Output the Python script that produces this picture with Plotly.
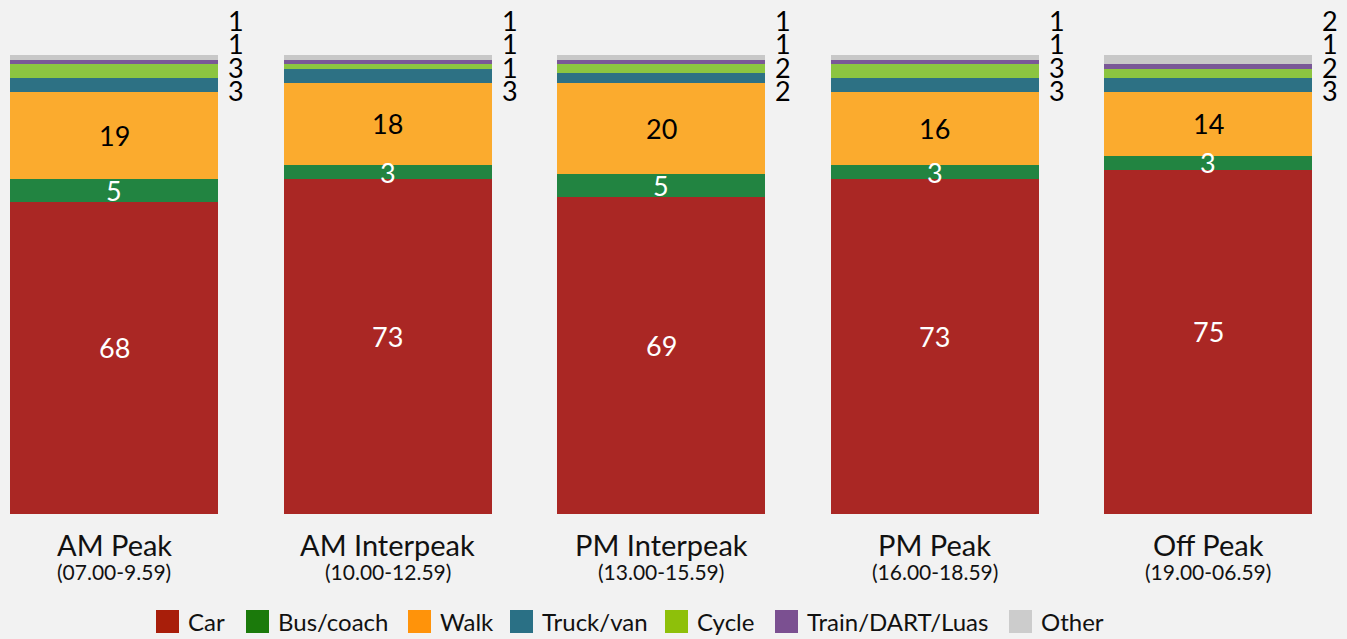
import plotly.graph_objects as go

# ---- data ----
periods = ["AM Peak", "AM Interpeak", "PM Interpeak", "PM Peak", "Off Peak"]
period_times = ["(07.00-9.59)", "(10.00-12.59)", "(13.00-15.59)", "(16.00-18.59)", "(19.00-06.59)"]
modes = ["Car", "Bus/coach", "Walk", "Truck/van", "Cycle", "Train/DART/Luas", "Other"]
car = [68, 73, 69, 73, 75]
bus = [5, 3, 5, 3, 3]
walk = [19, 18, 20, 16, 14]
truck = [3, 3, 2, 3, 3]
cycle = [3, 1, 2, 3, 2]
train = [1, 1, 1, 1, 1]
other = [1, 1, 1, 1, 2]

series = [car, bus, walk, truck, cycle, train, other]
bar_colors = ["#aa2724", "#228441", "#fbab2e", "#2d7184", "#8cc541", "#7a5897", "#c8c8c8"]
legend_colors = ["#a81e0a", "#1b7a0b", "#ff930a", "#2a7085", "#8ec00a", "#7b5091", "#cccccc"]

FONT = "Lato"
W, H = 1347, 639
ML, MR, MT, MB = 0, 0, 55, 125

fig = go.Figure()
for name, vals, col in zip(modes, series, bar_colors):
    fig.add_trace(go.Bar(x=periods, y=vals, name=name, marker=dict(color=col, line=dict(width=0)),
                         showlegend=False, hoverinfo="x+y+name"))

ann = []
# inside labels (Car, Bus, Walk) at segment centres
inside = [(0, "white", 10), (1, "white", 0), (2, "black", 0)]
for i, p in enumerate(periods):
    base = 0
    cums = []
    for s in series:
        cums.append((base, base + s[i]))
        base += s[i]
    for idx, colr, ysh in inside:
        lo, hi = cums[idx]
        ann.append(dict(x=p, y=(lo + hi) / 2, xref="x", yref="y", text=str(series[idx][i]),
                        showarrow=False, font=dict(family=FONT, size=27, color=colr),
                        xanchor="center", yanchor="middle", yshift=ysh))
    # outside labels for small segments, stacked to the right of the bar
    small = [(6, 34.5), (5, 12), (4, -12), (3, -35)]
    for idx, ysh in small:
        ann.append(dict(x=p, y=1, xref="x", yref="paper", text=str(series[idx][i]),
                        showarrow=False, font=dict(family=FONT, size=27, color="black"),
                        xanchor="left", yanchor="middle", xshift=112, yshift=ysh))
    # category labels
    ann.append(dict(x=p, y=0, xref="x", yref="paper", text=p, showarrow=False,
                    font=dict(family=FONT, size=29, color="#111111"),
                    xanchor="center", yanchor="middle", yshift=-30))
    ann.append(dict(x=p, y=0, xref="x", yref="paper", text=period_times[i], showarrow=False,
                    font=dict(family=FONT, size=21, color="#111111"),
                    xanchor="center", yanchor="middle", yshift=-57))

# manual legend
legend_x = [156, 246, 408, 510, 665, 775, 1009]
shapes = []
for name, col, lx in zip(modes, legend_colors, legend_x):
    shapes.append(dict(type="rect", xref="paper", yref="paper",
                       xsizemode="pixel", ysizemode="pixel",
                       xanchor=lx / W, x0=0, x1=23, yanchor=0, y0=-96, y1=-119,
                       fillcolor=col, line=dict(width=0)))
    ann.append(dict(x=(lx + 30) / W, y=0, xref="paper", yref="paper", text=name, showarrow=False,
                    font=dict(family=FONT, size=24, color="#111111"),
                    xanchor="left", yanchor="middle", yshift=-107))

fig.update_layout(
    width=W, height=H,
    margin=dict(l=ML, r=MR, t=MT, b=MB),
    barmode="stack", bargap=0.2395,
    paper_bgcolor="#f2f2f2", plot_bgcolor="#f2f2f2",
    font=dict(family=FONT),
    xaxis=dict(type="category", range=[-0.4168, 4.508], showticklabels=False, showgrid=False,
               zeroline=False, showline=False, ticks=""),
    yaxis=dict(range=[0, 100], visible=False, showgrid=False, zeroline=False),
    annotations=ann, shapes=shapes, showlegend=False,
)

fig.write_html("out.html", config={"displayModeBar": False},
               post_script="document.body.style.margin='0';document.body.style.overflow='hidden';")
